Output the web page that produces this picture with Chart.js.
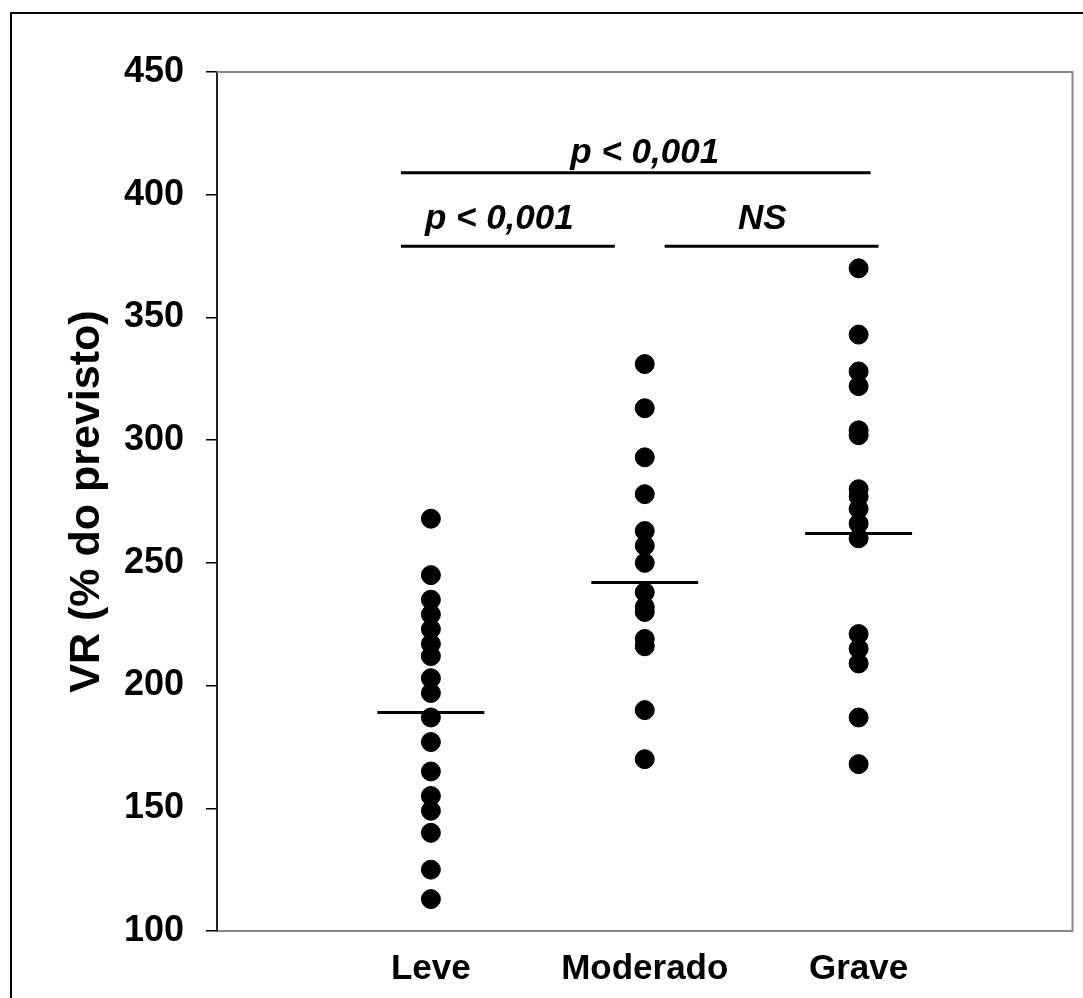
<!DOCTYPE html>
<html>
<head>
<meta charset="utf-8">
<script src="https://cdn.jsdelivr.net/npm/chart.js@4"></script>
<style>
  html, body { margin: 0; padding: 0; background: #fff; overflow: hidden; }
  #wrap { position: relative; width: 1083px; height: 998px; }
  #frame { position: absolute; left: 10px; top: 12px; width: 1200px; height: 1100px;
           border-left: 2px solid #000; border-top: 2px solid #000; pointer-events: none; }
  canvas { position: absolute; left: 0; top: 0; }
</style>
</head>
<body>
<div id="wrap">
  <canvas id="c" width="1083" height="998"></canvas>
  <div id="frame"></div>
</div>
<script>
  // categories and values
  const GROUPS = ['Leve', 'Moderado', 'Grave'];
  const LEVE = [268, 245, 235, 229, 223, 217, 212, 203, 197, 187, 177, 165, 155, 149, 140, 125, 113];
  const MODERADO = [331, 313, 293, 278, 263, 257, 250, 238, 232, 230, 219, 216, 190, 170];
  const GRAVE = [370, 343, 328, 322, 304, 302, 280, 277, 272, 266, 260, 221, 215, 209, 187, 168];
  const MEDIANS = [189, 242, 262];
  const Y_TICKS = [100, 150, 200, 250, 300, 350, 400, 450];

  // significance brackets: [fromX, toX, lineY, label, labelX, labelY]
  const SIG = [
    [0.86, 3.056, 409, 'p < 0,001', 2.0, 417],
    [0.86, 1.86, 379, 'p < 0,001', 1.32, 390],
    [2.093, 3.093, 379, 'NS', 2.55, 390],
  ];

  const FONT = '"Liberation Sans", Arial, sans-serif';
  const groups = [LEVE, MODERADO, GRAVE];

  const datasets = groups.map((vals, i) => ({
    type: 'scatter',
    label: GROUPS[i],
    data: vals.map(v => ({ x: i + 1, y: v })),
    pointRadius: 9.5,
    pointBackgroundColor: '#000',
    pointBorderColor: '#000',
    pointBorderWidth: 1,
  }));
  MEDIANS.forEach((m, i) => datasets.push({
    type: 'line',
    data: [{ x: i + 0.75, y: m }, { x: i + 1.25, y: m }],
    borderColor: '#000', borderWidth: 3, pointRadius: 0,
  }));
  SIG.forEach(s => datasets.push({
    type: 'line',
    data: [{ x: s[0], y: s[2] }, { x: s[1], y: s[2] }],
    borderColor: '#000', borderWidth: 3, pointRadius: 0,
  }));

  const extras = {
    id: 'extras',
    afterDraw(chart) {
      const { ctx, chartArea: a, scales: { x, y } } = chart;
      ctx.save();
      // top + right frame
      ctx.strokeStyle = '#888';
      ctx.lineWidth = 2;
      ctx.beginPath();
      ctx.moveTo(a.left, a.top); ctx.lineTo(a.right, a.top); ctx.lineTo(a.right, a.bottom);
      ctx.stroke();
      // significance labels
      ctx.fillStyle = '#000';
      ctx.font = 'italic bold 35px ' + FONT;
      ctx.textAlign = 'center';
      ctx.textBaseline = 'middle';
      SIG.forEach(s => ctx.fillText(s[3], x.getPixelForValue(s[4]), y.getPixelForValue(s[5])));
      ctx.restore();
    }
  };

  new Chart(document.getElementById('c'), {
    data: { datasets },
    options: {
      responsive: false,
      animation: false,
      layout: { padding: { left: 0, top: 72, right: 10, bottom: 0 } },
      plugins: { legend: { display: false }, tooltip: { enabled: false } },
      scales: {
        x: {
          type: 'linear', min: 0, max: 4,
          afterBuildTicks: s => { s.ticks = [1, 2, 3].map(v => ({ value: v })); },
          afterFit: s => { s.height = 67; },
          grid: { display: false, drawTicks: false },
          border: { display: true, color: '#888', width: 2 },
          ticks: {
            padding: 17, color: '#000',
            font: { family: FONT, size: 35, weight: 'bold' },
            callback: v => GROUPS[v - 1] || '',
          },
        },
        y: {
          type: 'linear', min: 100, max: 450,
          afterBuildTicks: s => { s.ticks = Y_TICKS.map(v => ({ value: v })); },
          afterFit: s => { s.width = 217; },
          grid: { drawOnChartArea: false, tickLength: 11, color: '#000', lineWidth: 1.5 },
          border: { display: true, color: '#222', width: 2 },
          ticks: { padding: 22, color: '#000', font: { family: FONT, size: 36, weight: 'bold' } },
          title: {
            display: true, text: 'VR (% do previsto)', color: '#000',
            font: { family: FONT, size: 43, weight: 'bold' },
            padding: { top: 61, bottom: 0 },
          },
        },
      },
    },
    plugins: [extras],
  });
</script>
</body>
</html>
